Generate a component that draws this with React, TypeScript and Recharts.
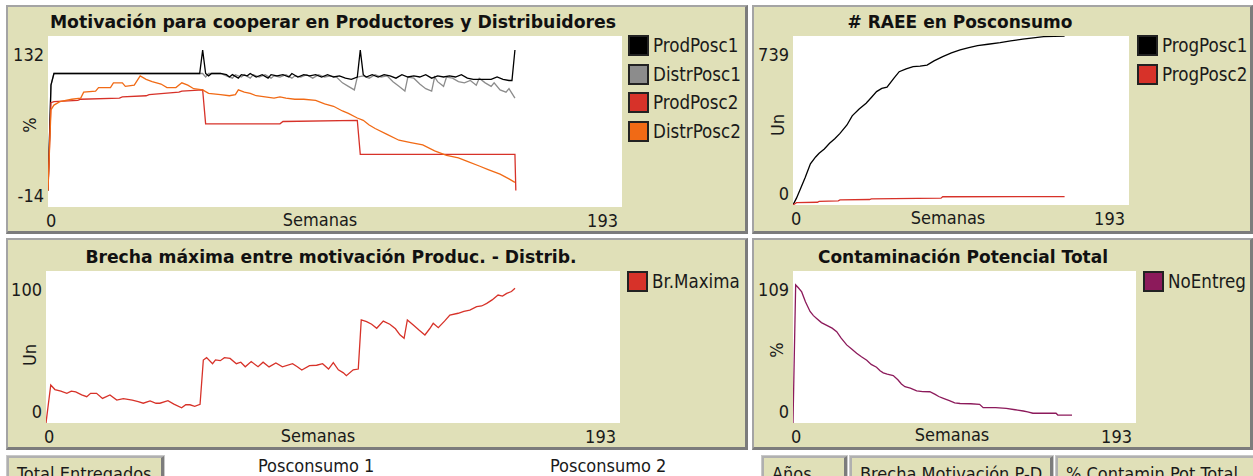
import React from "react";
import { LineChart, Line, XAxis, YAxis, CartesianGrid } from "recharts";

type Pt = [number, number];

// weeks axis shared by all four plots
const weekTicks = [0, 193];

// --- Motivación para cooperar (%), [week, value]
const prodPosc1: Pt[] = [
  [0, 0], [1, 90], [2, 100], [51, 100], [52, 120], [53, 100], [54, 98], [55, 100], [58, 100], [60, 99],
  [61, 97], [62, 99], [64, 96], [65, 99], [67, 98], [68, 100], [70, 97], [72, 99], [74, 96], [75, 99],
  [77, 98], [79, 99], [81, 97], [82, 100], [84, 97], [86, 99], [88, 98], [90, 99], [92, 97], [94, 99],
  [96, 97], [98, 98], [100, 96], [102, 95], [104, 97], [105, 120], [106, 99], [107, 97], [109, 99], [111, 97],
  [113, 99], [115, 98], [117, 96], [119, 99], [121, 97], [123, 98], [125, 97], [127, 99], [129, 96], [131, 98],
  [133, 97], [135, 98], [137, 97], [139, 99], [141, 96], [143, 95], [145, 95], [147, 95], [149, 95], [151, 97],
  [153, 95], [155, 94], [156, 94], [157, 120],
];
const distrPosc1: Pt[] = [
  [0, 0], [1, 90], [2, 100], [52, 100], [53, 97], [54, 100], [58, 100], [60, 98], [62, 96], [63, 99],
  [65, 97], [66, 99], [68, 96], [69, 99], [71, 97], [73, 99], [75, 96], [76, 98], [78, 97], [80, 99],
  [82, 96], [83, 98], [85, 97], [87, 99], [89, 96], [91, 99], [93, 97], [95, 98], [97, 97], [99, 92],
  [101, 89], [103, 86], [104, 97], [106, 98], [108, 96], [110, 99], [112, 97], [114, 98], [116, 93], [118, 89],
  [120, 85], [121, 97], [123, 96], [125, 91], [127, 87], [129, 85], [130, 97], [131, 93], [133, 89], [134, 97],
  [136, 96], [138, 93], [140, 92], [142, 94], [144, 90], [145, 96], [147, 92], [149, 89], [150, 92], [152, 86],
  [154, 84], [155, 87], [157, 79],
];
const prodPosc2: Pt[] = [
  [0, 0], [1, 75], [2, 76], [10, 77], [11, 78], [24, 79], [25, 80], [33, 81], [34, 82], [44, 84],
  [45, 85], [52, 86], [53, 57], [78, 57], [79, 59], [104, 60], [105, 31], [157, 31], [157.3, 0],
];
const distrPosc2: Pt[] = [
  [0, 0], [1, 69], [2, 73], [4, 76], [8, 78], [11, 79], [12, 84], [16, 85], [17, 88], [21, 88],
  [22, 92], [25, 92], [26, 89], [29, 90], [31, 98], [33, 95], [35, 93], [38, 91], [40, 88], [43, 88],
  [45, 92], [47, 90], [49, 87], [52, 86], [54, 83], [58, 82], [61, 81], [63, 82], [64, 86], [66, 84],
  [68, 83], [70, 81], [73, 80], [76, 79], [78, 80], [80, 79], [83, 78], [86, 78], [90, 77], [93, 74],
  [96, 72], [99, 68], [101, 66], [104, 62], [106, 60], [108, 56], [110, 53], [114, 48], [118, 43], [122, 41],
  [126, 39], [130, 34], [134, 30], [138, 28], [141, 25], [145, 21], [148, 18], [152, 14], [155, 10], [157, 7],
];

// --- # RAEE en Posconsumo (Un)
const progPosc1: Pt[] = [
  [0, 0], [2, 30], [4, 66], [7, 120], [10, 180], [13, 210], [15, 226], [18, 245], [21, 270], [24, 290],
  [27, 313], [31, 350], [34, 390], [38, 420], [42, 445], [45, 470], [48, 496], [51, 510], [54, 515], [58, 555],
  [61, 583], [65, 595], [69, 605], [73, 607], [77, 612], [81, 630], [86, 649], [91, 665], [96, 678], [101, 688],
  [106, 697], [112, 703], [119, 710], [125, 718], [132, 725], [138, 731], [144, 736], [150, 737], [156, 739],
];
const progPosc2: Pt[] = [
  [0, 0], [2, 10], [14, 12], [15, 16], [26, 18], [27, 22], [44, 24], [45, 27], [85, 30], [86, 36], [156, 37],
];

// --- Brecha máxima (Un)
const brMaxima: Pt[] = [
  [0, 0], [1.6, 25], [3, 22], [5, 21], [7, 19.5], [8.5, 21], [10, 20.5], [12, 18.5], [13.7, 17.3], [15, 19.5],
  [17, 19.5], [19, 16.2], [21.5, 18.4], [23.8, 15.1], [26, 16], [29, 15], [31, 14], [32.7, 13], [35, 14.5], [37, 13],
  [38.3, 13], [41, 14.7], [43, 12.4], [45.6, 10], [47, 12], [48.4, 12], [50, 11], [51.8, 12.3], [52.9, 41.4], [54, 43],
  [56, 39], [57, 41.5], [58.6, 41], [60, 43], [61.9, 42.5], [64, 39], [65.5, 40], [67, 37], [69, 40.4], [71.3, 37],
  [73, 40], [75, 36.9], [77.3, 39.5], [79.5, 37], [82.9, 39], [84.5, 37], [86, 34.9], [88.6, 37.7], [91, 38], [93, 39],
  [95, 35.5], [96.6, 39.7], [98.3, 35], [100, 33], [101, 31.1], [103.3, 35], [105, 35.5], [106, 67.8], [107.8, 66.7], [109.5, 65],
  [111.2, 62.3], [113.4, 67], [115.6, 65], [117.5, 62], [119, 58], [120.4, 55.7], [121.5, 67.8], [123.5, 64.5], [125.5, 61], [127.4, 57.9],
  [129, 62], [130.2, 65.6], [131.9, 62.7], [134, 67], [135.8, 71], [138.6, 72.2], [140.5, 73.5], [142.5, 74.3], [144.8, 76.5], [146.5, 77],
  [148.2, 78.7], [150, 81], [152, 84.2], [153.5, 83.5], [154.9, 85.3], [156.5, 86.5], [157.7, 88.6],
];

// --- Contaminación Potencial Total (%)
const noEntreg: Pt[] = [
  [0, 0], [1.5, 99], [3, 97], [4.9, 94], [7, 87], [9.6, 80], [11.5, 77], [13.3, 75], [16, 72], [19, 70],
  [22, 68], [24.6, 65.5], [27, 61], [30.2, 56], [33, 53], [35.8, 50], [38.5, 47.5], [41.5, 45], [44, 42], [47, 40],
  [49, 37.5], [50.8, 36], [53, 35], [56.4, 34], [59, 31], [61, 28], [63, 26], [66, 25], [69.6, 23], [73, 22.5],
  [77, 22.4], [80, 20.5], [82, 19], [84.6, 17.7], [88, 16], [91, 14.5], [94, 14], [100, 13.8], [105, 13.4], [107, 11],
  [114, 11], [120, 10.5], [125, 9.5], [129.6, 8.6], [132, 8], [135, 7], [148, 7], [149, 5.7], [157, 5.7],
];

const FONT = '"DejaVu Sans Condensed", "DejaVu Sans", sans-serif';
const BOLD = '"DejaVu Sans", sans-serif';
const BEIGE = "#E0E0B8";
const INK = "#1a1a1a";

const rows = (pts: Pt[]) => pts.map(([w, v]) => ({ w, v }));

type Series = { name: string; color: string; pts: Pt[] };

type PanelCfg = {
  frame: [number, number, number, number];
  title: string;
  titleCx: number;
  titleCy: number;
  titleSize: number;
  chartX: number;
  chartY: number;
  plotLeft: number;
  plotRight: number;
  plotBottom: number;
  chartBottom: number;
  yDomain: [number, number];
  yName: string;
  yNamePos: [number, number];
  xNamePos: [number, number];
  series: Series[];
  legendX: number;
  legendY: number;
};

const RED = "#D73229";

const panels: PanelCfg[] = [
  {
    frame: [6, 5, 742, 229],
    title: "Motivación para cooperar en Productores y Distribuidores",
    titleCx: 333, titleCy: 22, titleSize: 17.3,
    chartX: 8, chartY: 36, plotLeft: 48, plotRight: 622, plotBottom: 207, chartBottom: 232,
    yDomain: [-14, 132], yName: "%", yNamePos: [30, 125], xNamePos: [320, 220],
    series: [
      { name: "DistrPosc1", color: "#8c8c8c", pts: distrPosc1 },
      { name: "ProdPosc1", color: "#000000", pts: prodPosc1 },
      { name: "ProdPosc2", color: RED, pts: prodPosc2 },
      { name: "DistrPosc2", color: "#F16A15", pts: distrPosc2 },
    ],
    legendX: 628, legendY: 35,
  },
  {
    frame: [752, 5, 501, 229],
    title: "# RAEE en Posconsumo",
    titleCx: 960, titleCy: 22, titleSize: 17,
    chartX: 754, chartY: 36, plotLeft: 793, plotRight: 1129, plotBottom: 205, chartBottom: 232,
    yDomain: [0, 739], yName: "Un", yNamePos: [778, 125], xNamePos: [948, 218],
    series: [
      { name: "ProgPosc1", color: "#000000", pts: progPosc1 },
      { name: "ProgPosc2", color: RED, pts: progPosc2 },
    ],
    legendX: 1137, legendY: 35,
  },
  {
    frame: [6, 238, 742, 212],
    title: "Brecha máxima entre motivación Produc. - Distrib.",
    titleCx: 331, titleCy: 257, titleSize: 17.2,
    chartX: 8, chartY: 271, plotLeft: 46, plotRight: 620, plotBottom: 423, chartBottom: 446,
    yDomain: [0, 100], yName: "Un", yNamePos: [30, 355], xNamePos: [318, 436],
    series: [{ name: "Br.Maxima", color: RED, pts: brMaxima }],
    legendX: 627, legendY: 271,
  },
  {
    frame: [752, 238, 501, 212],
    title: "Contaminación Potencial Total",
    titleCx: 963, titleCy: 257, titleSize: 17,
    chartX: 754, chartY: 271, plotLeft: 793, plotRight: 1136, plotBottom: 423, chartBottom: 446,
    yDomain: [0, 109], yName: "%", yNamePos: [777, 350], xNamePos: [952, 435],
    series: [{ name: "NoEntreg", color: "#8C1A5B", pts: noEntreg }],
    legendX: 1143, legendY: 271,
  },
];

function YTick(props: any) {
  const { x, y, payload, top } = props;
  const isTop = payload.value === top;
  return (
    <text x={x - 4} y={y + (isTop ? 18 : -12)} textAnchor="end" dominantBaseline="central"
      fontFamily={FONT} fontSize={18} fill={INK}>
      {payload.value}
    </text>
  );
}

function XTick(props: any) {
  const { x, y, payload } = props;
  const first = payload.value === 0;
  return (
    <text x={first ? x - 2 : x - 4} y={y + 13} textAnchor={first ? "start" : "end"} dominantBaseline="central"
      fontFamily={FONT} fontSize={18} fill={INK}>
      {payload.value}
    </text>
  );
}

const abs = (l: number, t: number, extra: React.CSSProperties = {}): React.CSSProperties => ({
  position: "absolute", left: l, top: t, ...extra,
});

function Frame({ x, y, w, h }: { x: number; y: number; w: number; h: number }) {
  return (
    <div style={abs(x, y, {
      width: w, height: h, boxSizing: "border-box", background: BEIGE,
      borderTop: "2px solid #a4a4a4", borderLeft: "2px solid #a4a4a4",
      borderBottom: "3px solid #7c7c7c", borderRight: "3px solid #7c7c7c",
    })} />
  );
}

function Panel({ cfg }: { cfg: PanelCfg }) {
  const [fx, fy, fw, fh] = cfg.frame;
  const width = cfg.plotRight - cfg.chartX;
  const height = cfg.chartBottom - cfg.chartY;
  const yAxisW = cfg.plotLeft - cfg.chartX;
  const xAxisH = cfg.chartBottom - cfg.plotBottom;
  const legendOrder = cfg.series.length === 4
    ? [cfg.series[1], cfg.series[0], cfg.series[2], cfg.series[3]]
    : cfg.series;
  return (
    <>
      <Frame x={fx} y={fy} w={fw} h={fh} />
      <div style={abs(cfg.titleCx - 400, cfg.titleCy - 12, {
        width: 800, textAlign: "center", lineHeight: "24px", fontFamily: BOLD, fontWeight: "bold",
        fontSize: cfg.titleSize, color: "#111",
      })}>{cfg.title}</div>
      <div style={abs(cfg.chartX, cfg.chartY)}>
        <LineChart width={width} height={height} margin={{ top: 0, right: 0, bottom: 0, left: 0 }}>
          <CartesianGrid fill="#ffffff" stroke="none" horizontal={false} vertical={false} />
          <XAxis dataKey="w" type="number" domain={[0, 193]} ticks={weekTicks} interval={0}
            allowDataOverflow height={xAxisH} axisLine={false} tickLine={false} tickSize={0} tickMargin={0}
            tick={<XTick />} />
          <YAxis type="number" domain={cfg.yDomain} ticks={cfg.yDomain} interval={0} allowDataOverflow
            width={yAxisW} axisLine={false} tickLine={false} tickSize={0} tickMargin={0}
            tick={<YTick top={cfg.yDomain[1]} />} />
          {cfg.series.map((s) => (
            <Line key={s.name} data={rows(s.pts)} dataKey="v" name={s.name} type="linear" stroke={s.color}
              strokeWidth={1.3} dot={false} activeDot={false} isAnimationActive={false} />
          ))}
        </LineChart>
      </div>
      <div style={abs(cfg.yNamePos[0] - 30, cfg.yNamePos[1] - 11, {
        width: 60, height: 22, lineHeight: "22px", textAlign: "center", transform: "rotate(-90deg)",
        fontFamily: FONT, fontSize: 18, color: INK,
      })}>{cfg.yName}</div>
      <div style={abs(cfg.xNamePos[0] - 60, cfg.xNamePos[1] - 11, {
        width: 120, height: 22, lineHeight: "22px", textAlign: "center",
        fontFamily: FONT, fontSize: 18, color: INK,
      })}>Semanas</div>
      {legendOrder.map((s, i) => (
        <div key={s.name} style={abs(cfg.legendX, cfg.legendY + i * 28.7, {
          display: "flex", alignItems: "center", height: 21,
        })}>
          <div style={{ width: 21, height: 21, boxSizing: "border-box", background: s.color, border: "2px solid #222" }} />
          <span style={{ marginLeft: 4, fontFamily: FONT, fontSize: 18.6, color: INK, whiteSpace: "nowrap" }}>{s.name}</span>
        </div>
      ))}
    </>
  );
}

function Button({ x, w, label }: { x: number; w: number; label: string }) {
  return (
    <div style={abs(x, 456, {
      width: w, height: 40, boxSizing: "border-box", background: BEIGE,
      borderTop: "2px solid #b0b0b0", borderLeft: "2px solid #b0b0b0",
      borderRight: "3px solid #7c7c7c", outline: "1px solid #c8c8c8",
      fontFamily: FONT, fontSize: 18, color: INK, paddingLeft: 8, paddingTop: 5, whiteSpace: "nowrap", overflow: "hidden",
    })}>{label}</div>
  );
}

export default function App() {
  return (
    <div style={{ position: "fixed", left: 0, top: 0, width: 1253, height: 476, overflow: "hidden", background: "#fff" }}>
      {panels.map((p) => <Panel key={p.title} cfg={p} />)}
      <Button x={7} w={157} label="Total Entregados" />
      <div style={abs(258, 456, { fontFamily: FONT, fontSize: 18, color: INK, lineHeight: "20px" })}>Posconsumo 1</div>
      <div style={abs(550, 456, { fontFamily: FONT, fontSize: 18, color: INK, lineHeight: "20px" })}>Posconsumo 2</div>
      <Button x={762} w={85} label="Años" />
      <Button x={850} w={203} label="Brecha Motivación P-D" />
      <Button x={1056} w={210} label="% Contamin.Pot.Total" />
    </div>
  );
}
